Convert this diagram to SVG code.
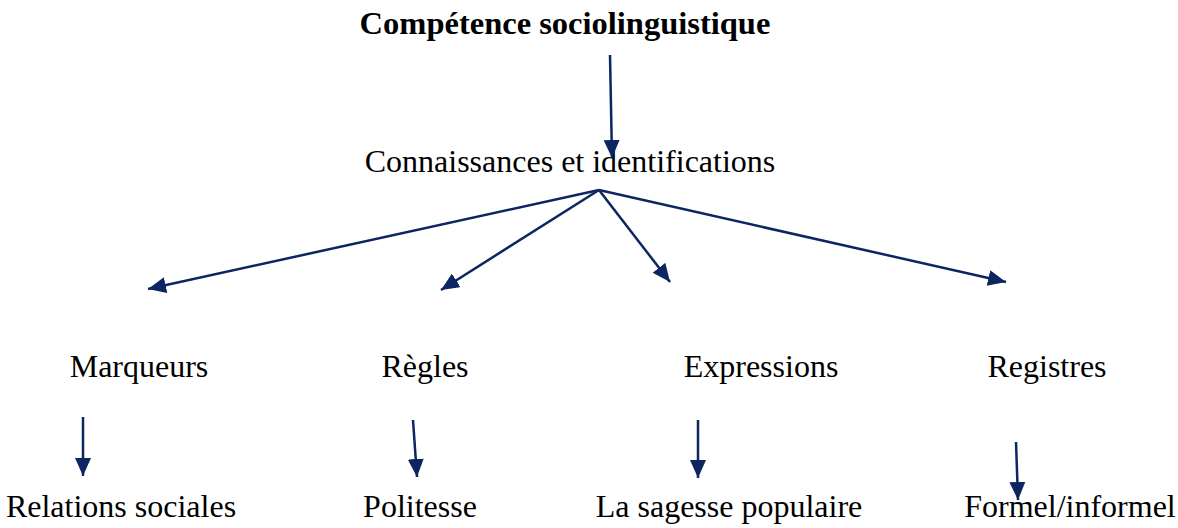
<svg xmlns="http://www.w3.org/2000/svg" width="1178" height="528" viewBox="0 0 1178 528">
<style>
text{font-family:"Liberation Serif","Times New Roman",serif;font-size:32px;fill:#000;text-anchor:middle}
.b{font-weight:bold;font-size:32.5px}
.c{stroke:#0d2560;stroke-width:2.5;fill:none}
</style>
<defs>
<marker id="ah" markerUnits="userSpaceOnUse" markerWidth="20" markerHeight="20" refX="18" refY="8" orient="auto">
<path d="M0,0 L18,8 L0,16 Z" fill="#0d2560"/>
</marker>
</defs>
<rect width="1178" height="528" fill="#fff"/>
<g id="n-title"><text class="b" x="565" y="34">Compétence sociolinguistique</text></g>
<g id="n-conn"><text x="570" y="172">Connaissances et identifications</text></g>
<g id="n-marq"><text x="139" y="377">Marqueurs</text></g>
<g id="n-regles"><text x="425" y="377">Règles</text></g>
<g id="n-expr"><text x="761" y="377">Expressions</text></g>
<g id="n-regi"><text x="1047" y="377">Registres</text></g>
<g id="n-rel"><text x="121" y="517">Relations sociales</text></g>
<g id="n-pol"><text x="420" y="517">Politesse</text></g>
<g id="n-sag"><text x="729" y="517">La sagesse populaire</text></g>
<g id="n-form"><text x="1070" y="517">Formel/informel</text></g>
<g id="connectors" class="c">
<line x1="610" y1="55" x2="612" y2="158" marker-end="url(#ah)"/>
<line x1="599" y1="190" x2="148" y2="289" marker-end="url(#ah)"/>
<line x1="599" y1="190" x2="441" y2="290" marker-end="url(#ah)"/>
<line x1="599" y1="190" x2="670" y2="282" marker-end="url(#ah)"/>
<line x1="599" y1="190" x2="1006" y2="282" marker-end="url(#ah)"/>
<line x1="83" y1="417" x2="83" y2="476" marker-end="url(#ah)"/>
<line x1="413" y1="420" x2="417" y2="477" marker-end="url(#ah)"/>
<line x1="698" y1="420" x2="698" y2="478" marker-end="url(#ah)"/>
<line x1="1016" y1="442" x2="1018" y2="500" marker-end="url(#ah)"/>
</g>
</svg>
